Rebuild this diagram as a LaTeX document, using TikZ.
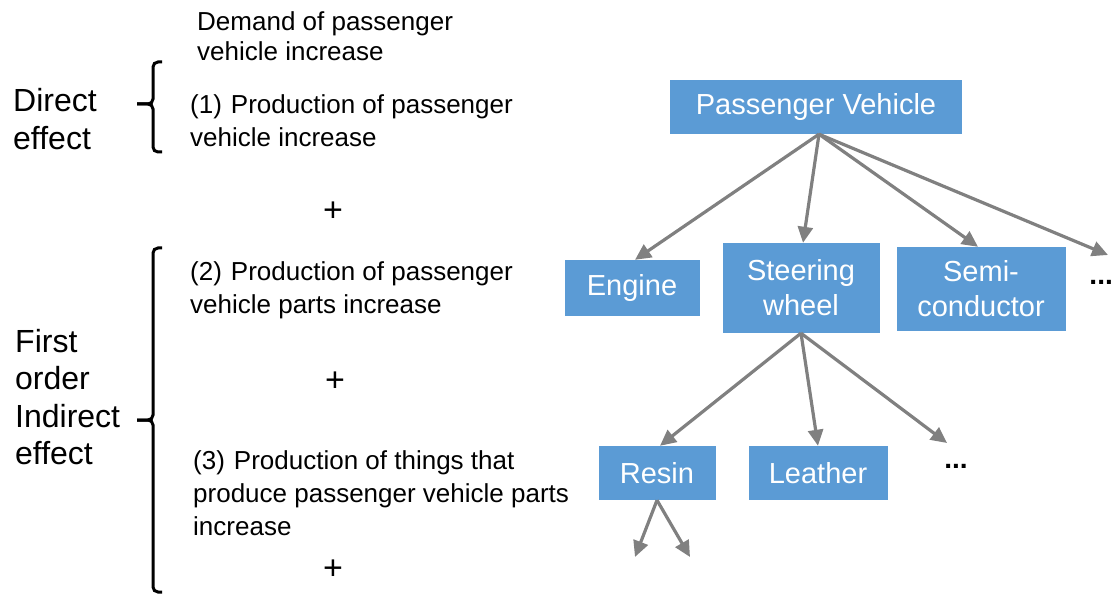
\documentclass[tikz,border=0pt]{standalone}
\usepackage{fontspec}
\setmainfont{Liberation Sans}
\usepackage{tikz}
\usetikzlibrary{arrows.meta}
\definecolor{boxblue}{RGB}{91,155,213}
\definecolor{linkgray}{RGB}{128,128,128}
\tikzset{
    partbox/.style={
        fill=boxblue,
        text=white,
        font=\fontsize{29}{35}\selectfont,
        align=center,
        inner sep=0pt
    },
    link/.style={
        draw=linkgray,
        line width=3.2pt,
        -{Triangle[length=16pt,width=15pt]}
    },
    note/.style={
        font=\fontsize{26}{33}\selectfont,
        align=left,
        anchor=west,
        inner sep=0pt
    },
    effect/.style={
        font=\fontsize{32}{37.5}\selectfont,
        align=left,
        anchor=west,
        inner sep=0pt
    },
    plus/.style={
        font=\fontsize{34}{36}\selectfont,
        inner sep=0pt
    },
    bracket/.style={
        line width=3pt,
        rounded corners=5pt
    }
}

\begin{document}
\begin{tikzpicture}[x=1pt,y=-1pt]
\useasboundingbox (0,0) rectangle (1114,596);

% left column
\node[note,font=\fontsize{26}{30}\selectfont] (demand) at (197,36) {Demand of passenger\\vehicle increase};
\node[note] (item1) at (190,121) {(1)\hspace{9pt}Production of passenger\\vehicle increase};
\node[note] (item2) at (190,290) {(2)\hspace{9pt}Production of passenger\\vehicle parts increase};
\node[note] (item3) at (193,493) {(3)\hspace{9pt}Production of things that\\produce passenger vehicle parts\\increase};
\node[plus] (plus1) at (333,212) {+};
\node[plus] (plus2) at (335,382) {+};
\node[plus] (plus3) at (333,570) {+};

\node[effect] (direct) at (13,119) {Direct\\effect};
\node[effect] (indirect) at (15,397) {First\\order\\Indirect\\effect};

\draw[bracket] (162,62) -- (153,62) -- (153,104) -- (137,104);
\draw[bracket] (137,104) -- (153,104) -- (153,152) -- (162,152);
\draw[bracket] (162,248) -- (153,248) -- (153,420) -- (137,420);
\draw[bracket] (137,420) -- (153,420) -- (153,592) -- (162,592);

% tree of parts
\node[partbox,minimum width=292pt,minimum height=54pt] (vehicle) at (816,107) {Passenger Vehicle};
\node[partbox,minimum width=135pt,minimum height=56pt] (engine) at (632,288) {Engine};
\node[partbox,minimum width=157pt,minimum height=90pt] (steering) at (801,288) {Steering\\wheel};
\node[partbox,minimum width=169pt,minimum height=84pt] (semi) at (981,289) {Semi-\\conductor};
\node[font=\fontsize{28}{30}\selectfont\bfseries,anchor=east,inner sep=0pt] (moreparts) at (1113,282) {...};
\coordinate (moretip) at (1108,255);

\node[partbox,minimum width=117pt,minimum height=54pt] (resin) at (657,473) {Resin};
\node[partbox,minimum width=139pt,minimum height=54pt] (leather) at (818,473) {Leather};
\node[font=\fontsize{28}{30}\selectfont\bfseries,inner sep=0pt] (morematerials) at (956,466) {...};
\coordinate (materialtip) at (947,443);

\coordinate (resinleft) at (635,557);
\coordinate (resinright) at (690,557);

\draw[link] ([xshift=3pt]vehicle.south) -- ([xshift=3pt]engine.north);
\draw[link] ([xshift=3pt]vehicle.south) -- ([xshift=2pt]steering.north);
\draw[link] ([xshift=3pt]vehicle.south) -- ([xshift=-3pt]semi.north);
\draw[link] ([xshift=3pt]vehicle.south) -- (moretip);

\draw[link] (steering.south) -- ([xshift=3pt]resin.north);
\draw[link] (steering.south) -- (leather.north);
\draw[link] (steering.south) -- (materialtip);

\draw[link] (resin.south) -- (resinleft);
\draw[link] (resin.south) -- (resinright);
\end{tikzpicture}
\end{document}
